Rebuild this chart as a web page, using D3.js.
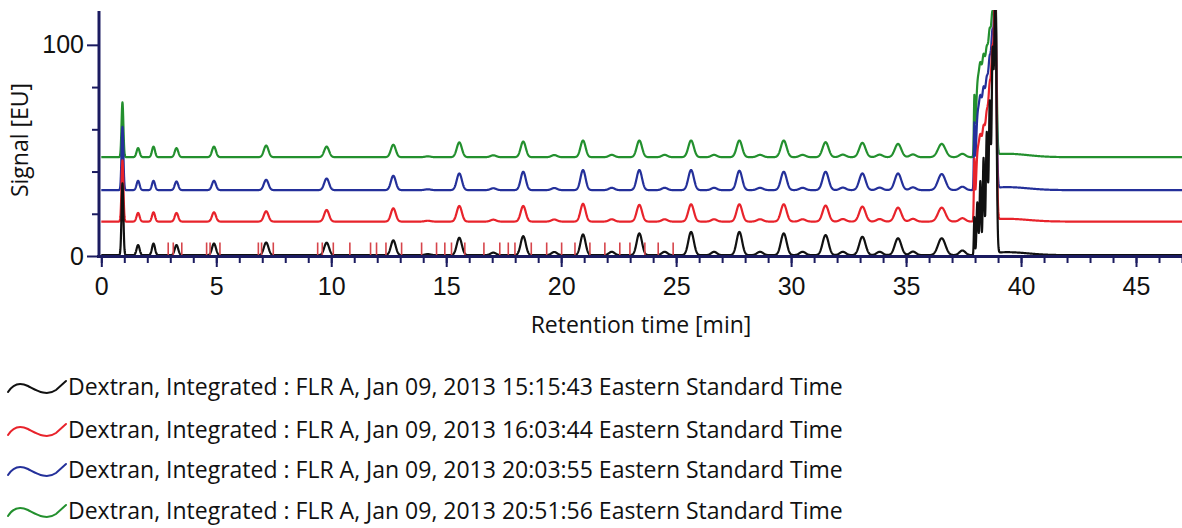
<!DOCTYPE html>
<html>
<head>
<meta charset="utf-8">
<script src="https://cdn.jsdelivr.net/npm/d3@7"></script>
<style>
  html, body { margin: 0; padding: 0; background: #fff; }
  svg { display: block; font-family: "Open Sans", "Noto Sans", sans-serif; }
</style>
</head>
<body>
<svg id="chart" width="1182" height="528"></svg>
<script>
// ---- Chromatogram peak table (retention time [min], peak width sigma [min]) ----
const peakTimes  = [0.92, 1.6, 2.27, 3.27, 4.9, 7.17, 9.8, 12.7, 15.57, 18.35, 20.95, 23.4, 25.65, 27.75, 29.68, 31.5, 33.1, 34.65, 36.55];
const peakWidths = [0.04, 0.065, 0.065, 0.075, 0.085, 0.1, 0.105, 0.105, 0.11, 0.11, 0.11, 0.115, 0.12, 0.12, 0.125, 0.13, 0.135, 0.14, 0.16];

// Peak heights above each trace's baseline [EU]
const heightsBlack = [34, 4.8, 5.5, 4.8, 5.5, 6.0, 5.9, 7.0, 8.2, 9.0, 9.8, 10.3, 11.0, 11.0, 10.3, 9.5, 8.7, 8.0, 8.0];
const heightsRed   = [29, 4.1, 4.4, 4.1, 4.4, 4.9, 5.5, 6.3, 7.4, 7.4, 8.4, 7.9, 8.2, 8.2, 8.2, 7.6, 7.1, 6.6, 6.6];
const heightsBlue  = [30, 4.4, 4.4, 4.1, 4.4, 4.9, 5.5, 6.8, 7.9, 8.7, 9.5, 9.5, 9.5, 9.2, 8.7, 8.7, 7.9, 7.9, 7.6];
const heightsGreen = [26, 4.3, 5.0, 4.3, 5.0, 5.5, 5.0, 5.9, 7.0, 7.4, 7.9, 7.9, 7.9, 7.9, 7.9, 7.1, 6.8, 6.3, 6.3];

// Small peaks between the main ladder peaks
const minorTimes   = [14.2, 17.05, 19.7, 22.2, 24.5, 26.65, 28.65, 30.5, 32.25, 33.85, 35.3, 37.45];
const minorWidths  = [0.12, 0.12, 0.12, 0.12, 0.12, 0.12, 0.13, 0.13, 0.13, 0.13, 0.13, 0.13];
const minorBlack   = [0.5, 1.2, 1.5, 1.6, 1.6, 1.6, 1.6, 1.6, 1.6, 1.6, 1.7, 2.2];
const minorColored = [0.4, 0.9, 1.0, 1.1, 1.1, 1.1, 1.1, 1.1, 1.2, 1.2, 1.3, 1.6];

// Unresolved high-mass cluster near 38–39 min
const clusterTimes         = [37.97, 38.1, 38.23, 38.37, 38.51, 38.64, 38.76, 38.88];
const clusterWidthsBlack   = [0.022, 0.035, 0.035, 0.035, 0.04, 0.04, 0.04, 0.05];
const clusterWidthsColored = [0.022, 0.065, 0.065, 0.065, 0.065, 0.06, 0.055, 0.05];
const clusterBlack  = [18, 25, 35, 46, 58, 72, 90, 125];
const clusterRed    = [26, 28, 34, 38, 44, 54, 70, 110];
const clusterBlue   = [28, 30, 37, 41, 45, 52, 64, 95];
const clusterGreen  = [25.5, 30, 37, 41, 44, 50, 58, 80];

// Slow tail after the cluster
const tailTime = 39.4, tailWidth = 0.9;
const tailHeights = [1.4, 1.3, 1.4, 1.6];

// Trace offsets [EU]
const baselines = [0.4, 16.3, 31.2, 46.8];

const seriesNames = [
  "Dextran, Integrated : FLR A, Jan 09, 2013 15:15:43 Eastern Standard Time",
  "Dextran, Integrated : FLR A, Jan 09, 2013 16:03:44 Eastern Standard Time",
  "Dextran, Integrated : FLR A, Jan 09, 2013 20:03:55 Eastern Standard Time",
  "Dextran, Integrated : FLR A, Jan 09, 2013 20:51:56 Eastern Standard Time"
];
const seriesColors = ["#111111", "#e8232b", "#24309a", "#23902e"];

// Integration event marks on the first trace
const markTimes = [2.91, 3.13, 3.5, 4.58, 4.73, 5.16, 6.83, 6.97, 7.48, 9.41, 9.61, 10.09, 10.81, 11.71, 11.97,
  12.38, 13.06, 13.93, 14.58, 14.94, 15.23, 15.81, 16.64, 17.33, 17.7, 17.99, 18.7, 19.37, 20.02, 20.6,
  21.25, 21.9, 22.55, 22.99, 23.64, 24.22, 24.87];
const markHeight = 6;

// Axis ticks
const xMajorTicks = [0, 5, 10, 15, 20, 25, 30, 35, 40, 45];
const xMinorTicks = d3.range(0, 48, 1);
const yMajorTicks = [0, 100];
const yMinorTicks = [20, 40, 60, 80];

// ---- Layout ----
const svg = d3.select("#chart");
const axisColor = "#1b1b60";
const x = d3.scaleLinear().domain([-0.1, 47]).range([99, 1182]);
const y = d3.scaleLinear().domain([0, 116.5]).range([256, 10]);

const traceSets = [
  { main: heightsBlack, minor: minorBlack,   cluster: clusterBlack, cw: clusterWidthsBlack },
  { main: heightsRed,   minor: minorColored, cluster: clusterRed,   cw: clusterWidthsColored },
  { main: heightsBlue,  minor: minorColored, cluster: clusterBlue,  cw: clusterWidthsColored },
  { main: heightsGreen, minor: minorColored, cluster: clusterGreen, cw: clusterWidthsColored }
];

function gauss(t, c, s, h) { const d = t - c; return h * Math.exp(-d * d / (2 * s * s)); }

function buildTrace(i) {
  const set = traceSets[i];
  const pts = [];
  for (let k = 0; k <= 4700; k++) {
    const t = k * 0.01;
    let v = baselines[i];
    peakTimes.forEach((c, j) => { v += gauss(t, c, peakWidths[j], set.main[j]); });
    minorTimes.forEach((c, j) => { v += gauss(t, c, minorWidths[j], set.minor[j]); });
    clusterTimes.forEach((c, j) => { v += gauss(t, c, set.cw[j], set.cluster[j]); });
    if (t > 38.9) v += gauss(t, tailTime, tailWidth, tailHeights[i]);
    pts.push([t, v]);
  }
  return pts;
}

svg.append("defs").append("clipPath").attr("id", "plotClip")
  .append("rect").attr("x", x(-0.1)).attr("y", y(116.5)).attr("width", x(47) - x(-0.1)).attr("height", y(0) - y(116.5) + 2);

const plot = svg.append("g").attr("clip-path", "url(#plotClip)");
const line = d3.line().x(d => x(d[0])).y(d => y(d[1]));

// Draw order: green at the back, black in front
[3, 2, 1, 0].forEach(i => {
  plot.append("path")
    .datum(buildTrace(i))
    .attr("fill", "none")
    .attr("stroke", seriesColors[i])
    .attr("stroke-width", 2.2)
    .attr("stroke-linejoin", "round")
    .attr("d", line);
});

// Integration marks
plot.append("g").selectAll("line").data(markTimes).join("line")
  .attr("x1", d => x(d)).attr("x2", d => x(d))
  .attr("y1", y(0.4)).attr("y2", y(markHeight + 0.4))
  .attr("stroke", "#d6454b").attr("stroke-width", 1.6);

// ---- Axes ----
const xAxisG = svg.append("g").attr("transform", `translate(0,${y(0)})`);
xAxisG.call(d3.axisBottom(x).tickValues(xMinorTicks).tickSize(7).tickFormat(""))
  .call(g => g.select(".domain").remove())
  .call(g => g.selectAll("line").attr("stroke", axisColor).attr("stroke-width", 2));
const xMajor = svg.append("g").attr("transform", `translate(0,${y(0)})`)
  .call(d3.axisBottom(x).tickValues(xMajorTicks).tickSize(11).tickPadding(10).tickFormat(d3.format("d")));
xMajor.select(".domain").remove();
xMajor.selectAll("line").attr("stroke", axisColor).attr("stroke-width", 2);
xMajor.selectAll("text").attr("fill", "#111").style("font-size", "25px");

const yMinor = svg.append("g").attr("transform", `translate(${x(-0.1)},0)`)
  .call(d3.axisLeft(y).tickValues(yMinorTicks).tickSize(7).tickFormat(""));
yMinor.select(".domain").remove();
yMinor.selectAll("line").attr("stroke", axisColor).attr("stroke-width", 2);
const yMajor = svg.append("g").attr("transform", `translate(${x(-0.1)},0)`)
  .call(d3.axisLeft(y).tickValues(yMajorTicks).tickSize(12).tickPadding(3).tickFormat(d3.format("d")));
yMajor.select(".domain").remove();
yMajor.selectAll("line").attr("stroke", axisColor).attr("stroke-width", 2);
yMajor.selectAll("text").attr("fill", "#111").style("font-size", "25px");

// Axis lines
svg.append("line").attr("x1", x(-0.1) - 2).attr("x2", 1182).attr("y1", y(0) + 0.5).attr("y2", y(0) + 0.5)
  .attr("stroke", axisColor).attr("stroke-width", 3);
svg.append("line").attr("x1", x(-0.1)).attr("x2", x(-0.1)).attr("y1", y(116.5) + 1).attr("y2", y(0) + 2)
  .attr("stroke", axisColor).attr("stroke-width", 3);

// Axis titles
svg.append("text").attr("x", 641).attr("y", 333).attr("text-anchor", "middle")
  .attr("fill", "#111").style("font-size", "23px").text("Retention time [min]");
svg.append("text").attr("transform", "translate(28,140) rotate(-90)").attr("text-anchor", "middle")
  .attr("fill", "#111").style("font-size", "23px").text("Signal [EU]");

// ---- Legend ----
const legendY = [387, 430, 470, 511];
const legend = svg.append("g");
seriesNames.forEach((name, i) => {
  const g = legend.append("g").attr("transform", `translate(0,${legendY[i]})`);
  g.append("path")
    .attr("d", "M8,5 C13,-3 20,-5 28,-1 C36,3 46,10 56,3 L66,-6")
    .attr("fill", "none").attr("stroke", seriesColors[i]).attr("stroke-width", 2).attr("stroke-linecap", "round");
  g.append("text").attr("x", 68).attr("y", 8).attr("fill", "#111").style("font-size", "23px").text(name);
});
</script>
</body>
</html>
